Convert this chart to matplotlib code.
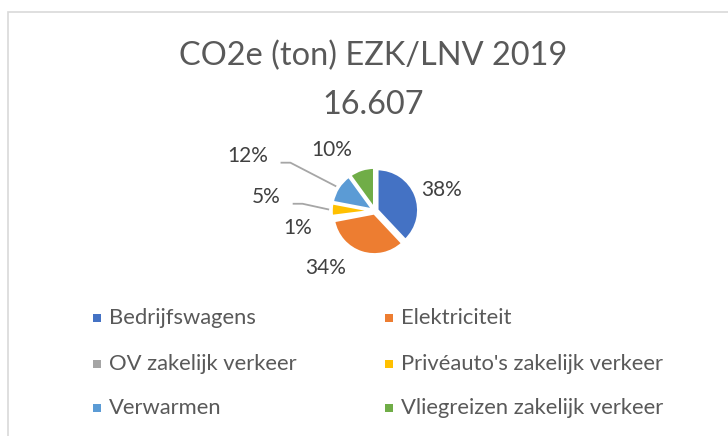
import matplotlib
matplotlib.use("Agg")
import matplotlib.pyplot as plt
from matplotlib.patches import Rectangle
import numpy as np

plt.rcParams['font.family'] = ['Lato', 'DejaVu Sans']

categories = ["Bedrijfswagens", "Elektriciteit", "OV zakelijk verkeer",
              "Privéauto's zakelijk verkeer", "Verwarmen", "Vliegreizen zakelijk verkeer"]
shares = [38, 34, 1, 5, 12, 10]
colors = ["#4472c4", "#ed7d31", "#a5a5a5", "#ffc000", "#5b9bd5", "#70ad47"]
title = "CO2e (ton) EZK/LNV 2019\n16.607"

# label placement: distance (pie radii), angle shift (deg), leader line
label_dist = [1.71, 1.84, 1.94, 2.68, 3.38, 1.82]
label_shift = [-4, -23, 3, -5.5, 9, 17]
leader = [False, False, False, True, True, False]

W, H, dpi = 728, 436, 100
fig = plt.figure(figsize=(W / dpi, H / dpi), dpi=dpi)
fig.patches.append(Rectangle((8 / W, -0.1), 1.2, 1 - 12.5 / H + 0.1, transform=fig.transFigure,
                             fill=False, edgecolor="#d9d9d9", linewidth=1.2))

# pie axes: 1 data unit = R pixels, centre at (cx, cy) in pixels from top-left
R, cx, cy = 41, 375, 211
ax = fig.add_axes([0, 0, 1, 1])
expl = 0.06
wedges, _ = ax.pie(shares, colors=colors, startangle=90, counterclock=False,
                   explode=[expl] * len(shares),
                   wedgeprops=dict(edgecolor="white", linewidth=1.8))
ax.set_xlim(-cx / R, (W - cx) / R)
ax.set_ylim(-(H - cy) / R, cy / R)
ax.set_aspect("auto")
ax.axis("off")

total = sum(shares)
texts = []
for w, s, d, sh in zip(wedges, shares, label_dist, label_shift):
    ang = np.deg2rad((w.theta1 + w.theta2) / 2 + sh)
    t = ax.text(d * np.cos(ang), d * np.sin(ang), f"{s / total * 100:.0f}%",
                ha="center", va="center", fontsize=15, color="#404040")
    texts.append(t)

fig.canvas.draw()
inv = ax.transData.inverted()
for w, t, ld in zip(wedges, texts, leader):
    if not ld:
        continue
    bb = t.get_window_extent().transformed(inv)
    mid = np.deg2rad((w.theta1 + w.theta2) / 2)
    x0, y0 = bb.x1 + 0.3, bb.y0 + 0.08
    ex, ey = 1.12 * np.cos(mid), 1.12 * np.sin(mid)
    ax.plot([x0, x0 + 0.24, ex], [y0, y0, ey], color="#a6a6a6", lw=1.3,
            solid_capstyle="butt")

fig.text(0.512, 1 - 80 / H, title, ha="center", va="center", fontsize=23.4,
         color="#595959", linespacing=1.78)

# legend laid out like the Excel one: row-major, two columns
col_x = [93, 385]
row_y = [318, 364, 408]
sq = 8
for i, (lab, c) in enumerate(zip(categories, colors)):
    x, y = col_x[i % 2], row_y[i // 2]
    fig.patches.append(Rectangle((x / W, 1 - (y + sq / 2) / H), sq / W, sq / H,
                                 transform=fig.transFigure, facecolor=c, edgecolor="none"))
    fig.text((x + sq + 8) / W, 1 - y / H, lab, ha="left", va="center",
             fontsize=15.8, color="#595959")

fig.savefig("out.png", dpi=dpi)
